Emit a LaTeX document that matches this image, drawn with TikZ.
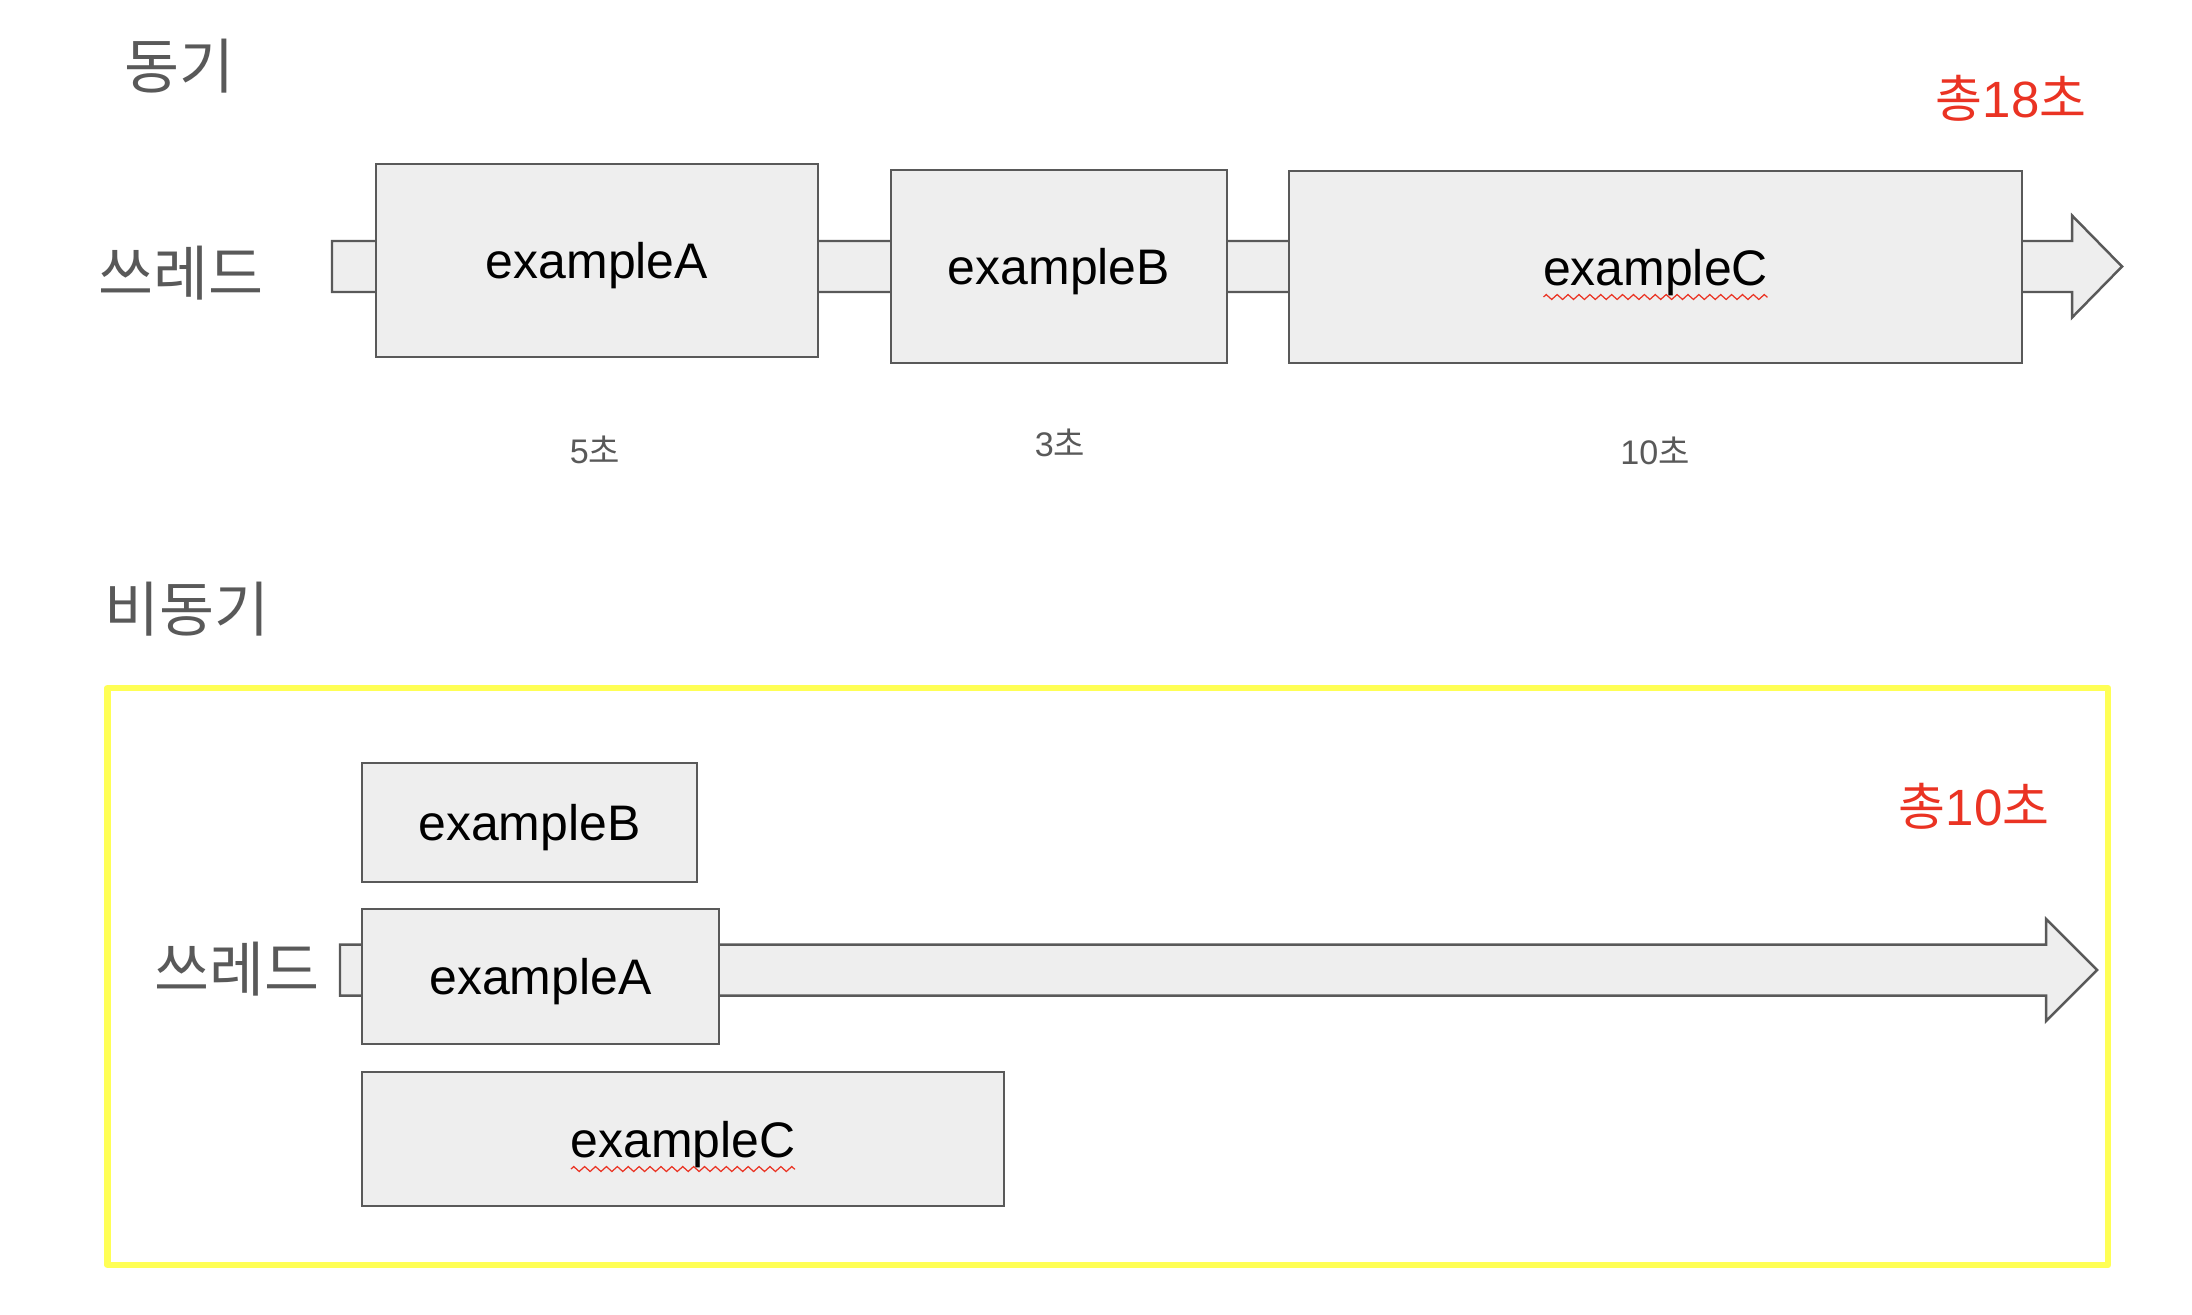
\documentclass[tikz,border=0pt]{standalone}
\usepackage{fontspec}
\setmainfont{Liberation Sans}
\newfontfamily\kr{Noto Sans CJK KR}
\usetikzlibrary{calc}
\usetikzlibrary{decorations.pathmorphing}
\definecolor{boxfill}{HTML}{EEEEEE}
\definecolor{boxline}{HTML}{595959}
\definecolor{labelgray}{HTML}{595959}
\definecolor{totalred}{HTML}{EA3323}
\definecolor{frameyellow}{HTML}{FFFF55}
\newcommand{\barhalf}{25.5}
\newcommand{\headhalf}{51}

\begin{document}
\begin{tikzpicture}[x=0.01cm, y=-0.01cm,
    thread/.style={draw=boxline, fill=boxfill, line width=0.7pt},
    squiggle/.style={draw=totalred, line width=0.35pt,
        decorate, decoration={zigzag, segment length=3.1pt, amplitude=0.7pt}}]
    \useasboundingbox (0,0) rectangle (2192,1314);

    % titles and thread names
    \begin{scope}[every node/.style={text=labelgray, font=\kr\fontsize{17}{19}\selectfont}]
        \node (sync) at (179,66) {동기};
        \node (thread1) at (181,273) {쓰레드};
        \node (async) at (187,609) {비동기};
        \node (thread2) at (237,969) {쓰레드};
    \end{scope}

    % totals
    \begin{scope}[every node/.style={text=totalred, font=\fontsize{14.5}{16}\selectfont}]
        \node (total1) at (2011,98) {{\kr 총}18{\kr 초}};
        \node (total2) at (1974,806) {{\kr 총}10{\kr 초}};
    \end{scope}

    % durations
    \begin{scope}[every node/.style={text=labelgray, font=\fontsize{9.7}{11}\selectfont}]
        \node (timeA) at (595,450) {5{\kr 초}};
        \node (timeB) at (1060,443) {3{\kr 초}};
        \node (timeC) at (1655,451) {10{\kr 초}};
    \end{scope}

    % async frame
    \draw[frameyellow, line width=1.85pt, line join=round] (107.5,688) rectangle (2108,1265);

    % thread arrows
    \coordinate (s1) at (332,266.5);
    \coordinate (h1) at (2072,266.5);
    \coordinate (t1) at (2122,266.5);
    \coordinate (s2) at (340,970);
    \coordinate (h2) at (2046,970);
    \coordinate (t2) at (2097,970);
    \foreach \i in {1,2}{
        \draw[thread] ($(s\i)+(0,-\barhalf)$) -- ($(h\i)+(0,-\barhalf)$) -- ($(h\i)+(0,-\headhalf)$)
            -- (t\i) -- ($(h\i)+(0,\headhalf)$) -- ($(h\i)+(0,\barhalf)$) -- ($(s\i)+(0,\barhalf)$) -- cycle;
    }

    % tasks
    \begin{scope}[every node/.style={draw=boxline, fill=boxfill, line width=0.7pt, inner sep=0pt,
        text depth=0pt, font=\fontsize{14.2}{16}\selectfont}]
        \node[minimum width=4.42cm, minimum height=1.93cm] (a1) at (597,260.5) {exampleA};
        \node[minimum width=3.36cm, minimum height=1.93cm] (b1) at (1059,266.5) {exampleB};
        \node[minimum width=7.33cm, minimum height=1.92cm] (c1) at (1655.5,267) {exampleC};

        \node[minimum width=3.35cm, minimum height=1.19cm] (b2) at (529.5,822.5) {exampleB};
        \node[minimum width=3.57cm, minimum height=1.35cm] (a2) at (540.5,976.5) {exampleA};
        \node[minimum width=6.42cm, minimum height=1.34cm] (c2) at (683,1139) {exampleC};
    \end{scope}

    % spelling marks
    \draw[squiggle] ($(c1)+(-112,30)$) -- ($(c1)+(112,30)$);
    \draw[squiggle] ($(c2)+(-112,30)$) -- ($(c2)+(112,30)$);
\end{tikzpicture}
\end{document}
